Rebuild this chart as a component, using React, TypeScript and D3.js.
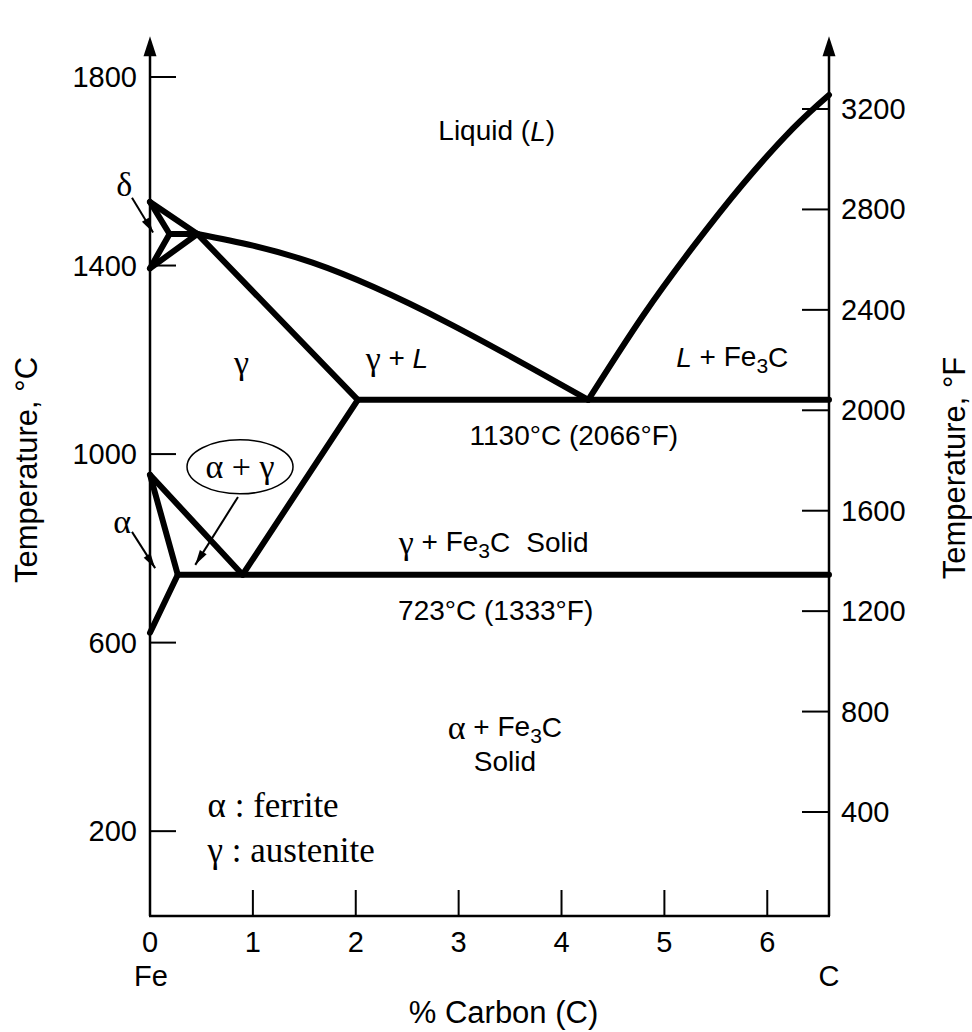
import * as d3 from "d3";

const carbonTicks = [0, 1, 2, 3, 4, 5, 6];
const celsiusTicks = [200, 600, 1000, 1400, 1800];
const fahrenheitTicks = [400, 800, 1200, 1600, 2000, 2400, 2800, 3200];

// phase boundaries as [% C, °C]
const deltaLiquidus = [[0, 1535], [0.46, 1467]];
const deltaSolidus = [[0, 1535], [0.19, 1467]];
const peritectic = [[0.19, 1467], [0.46, 1467]];
const deltaGammaLeft = [[0.19, 1467], [0, 1394]];
const deltaGammaRight = [[0.46, 1467], [0, 1394]];
const liquidusLeft = [[0.46, 1467], [1.58, 1406], [2.89, 1279], [4.26, 1115]];
const liquidusRight = [[4.26, 1115], [4.79, 1293], [5.28, 1440], [5.76, 1572], [6.25, 1691], [6.6, 1762]];
const gammaSolidus = [[0.46, 1467], [2.02, 1115]];
const eutecticLine = [[2.02, 1115], [6.6, 1115]];
const acmLine = [[0.9, 744], [2.02, 1115]];
const a3Line = [[0, 956], [0.9, 744]];
const alphaLine = [[0, 956], [0.27, 744]];
const solvusLine = [[0.27, 744], [0, 621]];
const eutectoidLine = [[0.27, 744], [6.6, 744]];

const straight = [deltaLiquidus, deltaSolidus, peritectic, deltaGammaLeft, deltaGammaRight,
  gammaSolidus, eutecticLine, acmLine, a3Line, alphaLine, solvusLine, eutectoidLine];
const curved = [liquidusLeft, liquidusRight];

// pointer arrows: [from, to]
const pointers = [
  [[-0.175, 1544], [0.03, 1470]], // delta
  [[-0.175, 835], [0.05, 758]], // alpha
  [[0.855, 909], [0.44, 765]], // alpha + gamma
];

const SANS = "Liberation Sans, Arial, Helvetica, sans-serif";
const SERIF = "Liberation Serif, Times New Roman, serif";

export default function App() {
  const width = 972;
  const height = 1032;
  const x = d3.scaleLinear().domain([0, 6.6]).range([150, 829]);
  const y = d3.scaleLinear().domain([20, 1800]).range([916, 77]);
  const yF = d3.scaleLinear().domain([400, 3200]).range([812, 109]);

  const line = d3.line<number[]>().x(d => x(d[0])).y(d => y(d[1]));
  const curve = d3.line<number[]>().x(d => x(d[0])).y(d => y(d[1])).curve(d3.curveNatural);

  const x0 = x(0);
  const x1 = x(6.6);
  const yBottom = y(20);
  const yTop = y(1882);
  const fs = 28;
  const gs = 34; // greek letters, serif

  const arrowHead = (p: number[], q: number[], len = 15, half = 4) => {
    const [ax, ay] = [x(p[0]), y(p[1])];
    const [bx, by] = [x(q[0]), y(q[1])];
    const ang = Math.atan2(by - ay, bx - ax);
    const cx = bx - len * Math.cos(ang);
    const cy = by - len * Math.sin(ang);
    const nx = -Math.sin(ang) * half;
    const ny = Math.cos(ang) * half;
    return `M${bx},${by}L${cx + nx},${cy + ny}L${cx - nx},${cy - ny}Z`;
  };

  const sub = (s: string) => <tspan dy={8} fontSize={21}>{s}</tspan>;

  return (
    <svg width={width} height={height} style={{ position: "absolute", left: 0, top: 0, background: "#fff" }}>
      {/* axes */}
      <g stroke="#000" strokeWidth={2.5} fill="none">
        <line x1={x0} y1={yBottom} x2={x0} y2={yTop + 10} />
        <line x1={x1} y1={yBottom} x2={x1} y2={yTop + 10} />
        <line x1={x0 - 1} y1={yBottom} x2={x1 + 1} y2={yBottom} />
      </g>
      <path d={`M${x0},${yTop - 2}L${x0 - 6.5},${yTop + 18}L${x0 + 6.5},${yTop + 18}Z`} fill="#000" />
      <path d={`M${x1},${yTop - 2}L${x1 - 6.5},${yTop + 18}L${x1 + 6.5},${yTop + 18}Z`} fill="#000" />

      {/* ticks */}
      <g stroke="#000" strokeWidth={2}>
        {celsiusTicks.map(t => <line key={`c${t}`} x1={x0} x2={x0 + 26} y1={y(t)} y2={y(t)} />)}
        {fahrenheitTicks.map(t => <line key={`f${t}`} x1={x1 - 27} x2={x1} y1={yF(t)} y2={yF(t)} />)}
        {carbonTicks.slice(1).map(t => <line key={`x${t}`} x1={x(t)} x2={x(t)} y1={yBottom} y2={yBottom - 26} />)}
      </g>
      <g fontFamily={SANS} fontSize={29} fill="#000">
        {celsiusTicks.map(t => (
          <text key={`cl${t}`} x={x0 - 13} y={y(t)} textAnchor="end" dominantBaseline="central">{t}</text>
        ))}
        {fahrenheitTicks.map(t => (
          <text key={`fl${t}`} x={x1 + 12} y={yF(t)} dominantBaseline="central">{t}</text>
        ))}
        {carbonTicks.map(t => (
          <text key={`xl${t}`} x={x(t)} y={yBottom + 26} textAnchor="middle" dominantBaseline="central">{t}</text>
        ))}
        <text x={x0 + 1} y={yBottom + 60} textAnchor="middle" dominantBaseline="central">Fe</text>
        <text x={x1} y={yBottom + 60} textAnchor="middle" dominantBaseline="central">C</text>
      </g>
      <g fontFamily={SANS} fontSize={31} fill="#000" textAnchor="middle" dominantBaseline="central">
        <text x={(x0 + x1) / 2 + 14} y={yBottom + 96}>% Carbon (C)</text>
        <text transform={`translate(26,${470}) rotate(-90)`}>Temperature, °C</text>
        <text transform={`translate(954,${468}) rotate(-90)`}>Temperature, °F</text>
      </g>

      {/* phase boundaries */}
      <g stroke="#000" strokeWidth={6} fill="none" strokeLinecap="round" strokeLinejoin="round">
        {straight.map((d, i) => <path key={`s${i}`} d={line(d) ?? ""} />)}
        {curved.map((d, i) => <path key={`c${i}`} d={curve(d) ?? ""} />)}
      </g>

      {/* pointer arrows */}
      <g>
        {pointers.map(([p, q], i) => (
          <g key={`p${i}`}>
            <line x1={x(p[0])} y1={y(p[1])} x2={x(q[0])} y2={y(q[1])} stroke="#000" strokeWidth={2} />
            <path d={arrowHead(p, q)} fill="#000" />
          </g>
        ))}
      </g>
      <ellipse cx={x(0.875)} cy={y(973)} rx={53} ry={27} fill="#fff" stroke="#000" strokeWidth={1.5} />

      {/* region labels */}
      <g fontFamily={SANS} fontSize={fs} fill="#000" textAnchor="middle" dominantBaseline="central">
        <text x={x(3.37)} y={y(1686)}>Liquid (<tspan fontStyle="italic">L</tspan>)</text>
        <text x={x(-0.25)} y={y(1572)} fontFamily={SERIF} fontSize={gs}>δ</text>
        <text x={x(-0.27)} y={y(856)} fontFamily={SERIF} fontSize={gs}>α</text>
        <text x={x(0.89)} y={y(1194)} fontFamily={SERIF} fontSize={gs}>γ</text>
        <text x={x(2.4)} y={y(1204)}><tspan fontFamily={SERIF} fontSize={gs}>γ</tspan> + <tspan fontStyle="italic">L</tspan></text>
        <text x={x(5.66)} y={y(1206)}><tspan fontStyle="italic">L</tspan> + Fe{sub("3")}<tspan dy={-8}>C</tspan></text>
        <text x={x(4.12)} y={y(1039)}>1130°C (2066°F)</text>
        <text x={x(0.875)} y={y(973)} fontFamily={SERIF} fontSize={gs}>α + γ</text>
        <text x={x(3.34)} y={y(814)}><tspan fontFamily={SERIF} fontSize={gs}>γ</tspan> + Fe{sub("3")}<tspan dy={-8}>C</tspan><tspan dx={16}>Solid</tspan></text>
        <text x={x(3.36)} y={y(669)}>723°C (1333°F)</text>
        <text x={x(3.45)} y={y(421)}><tspan fontFamily={SERIF} fontSize={gs}>α</tspan> + Fe{sub("3")}<tspan dy={-8}>C</tspan></text>
        <text x={x(3.45)} y={y(347)}>Solid</text>
      </g>
      <g fontFamily={SERIF} fontSize={35} fill="#000" dominantBaseline="central">
        <text x={x(0.56)} y={y(255)}>α : ferrite</text>
        <text x={x(0.56)} y={y(160)}>γ : austenite</text>
      </g>
    </svg>
  );
}
